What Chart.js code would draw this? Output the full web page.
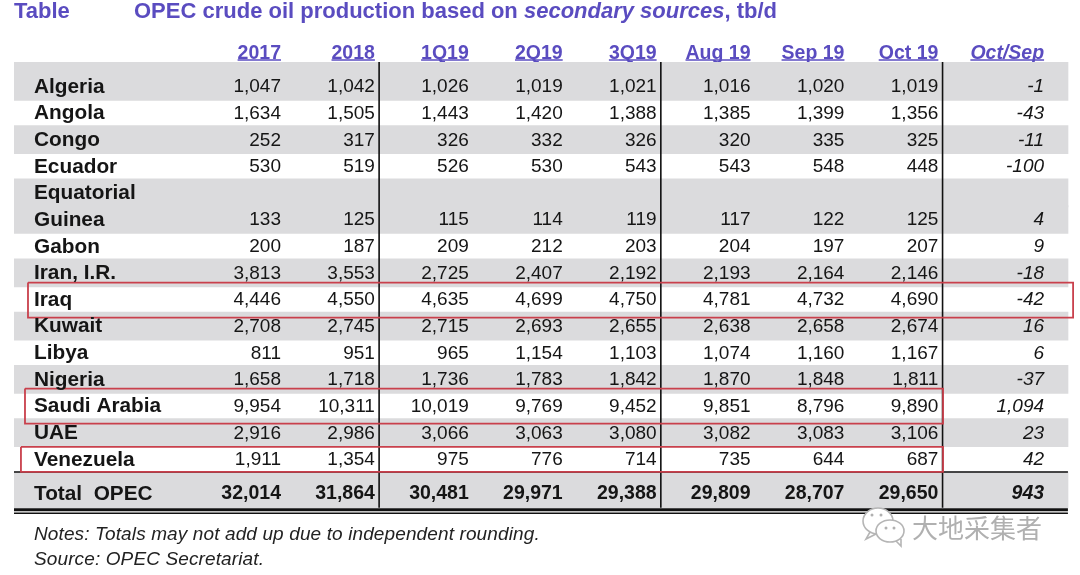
<!DOCTYPE html>
<html>
<head>
<meta charset="utf-8">
<style>
  html, body { margin: 0; padding: 0; background: #fff; }
  canvas { display: block; }
</style>
</head>
<body>
<canvas id="myChart" width="1080" height="575"></canvas>
<script src="https://cdn.jsdelivr.net/npm/chart.js@4"></script>
<script>
    const rows = ["Algeria", "Angola", "Congo", "Ecuador", "Equatorial", "Guinea", "Gabon", "Iran, I.R.", "Iraq",
        "Kuwait", "Libya", "Nigeria", "Saudi Arabia", "UAE", "Venezuela", "Total  OPEC"];
    const columns = ["2017", "2018", "1Q19", "2Q19", "3Q19", "Aug 19", "Sep 19", "Oct 19", "Oct/Sep"];

    const v2017 = [1047, 1634, 252, 530, null, 133, 200, 3813, 4446, 2708, 811, 1658, 9954, 2916, 1911, 32014];
    const v2018 = [1042, 1505, 317, 519, null, 125, 187, 3553, 4550, 2745, 951, 1718, 10311, 2986, 1354, 31864];
    const v1Q19 = [1026, 1443, 326, 526, null, 115, 209, 2725, 4635, 2715, 965, 1736, 10019, 3066, 975, 30481];
    const v2Q19 = [1019, 1420, 332, 530, null, 114, 212, 2407, 4699, 2693, 1154, 1783, 9769, 3063, 776, 29971];
    const v3Q19 = [1021, 1388, 326, 543, null, 119, 203, 2192, 4750, 2655, 1103, 1842, 9452, 3080, 714, 29388];
    const vAug19 = [1016, 1385, 320, 543, null, 117, 204, 2193, 4781, 2638, 1074, 1870, 9851, 3082, 735, 29809];
    const vSep19 = [1020, 1399, 335, 548, null, 122, 197, 2164, 4732, 2658, 1160, 1848, 8796, 3083, 644, 28707];
    const vOct19 = [1019, 1356, 325, 448, null, 125, 207, 2146, 4690, 2674, 1167, 1811, 9890, 3106, 687, 29650];
    const vChange = [-1, -43, -11, -100, null, 4, 9, -18, -42, 16, 6, -37, 1094, 23, 42, 943];
    const series = [v2017, v2018, v1Q19, v2Q19, v3Q19, vAug19, vSep19, vOct19, vChange];

    const grayRows = ["Algeria", "Congo", "Equatorial", "Guinea", "Iran, I.R.", "Kuwait", "Nigeria", "UAE", "Total  OPEC"];
    const dividerAfter = ["2018", "3Q19", "Oct 19"];

    const FONT = '"Liberation Sans", Arial, sans-serif';
    const PURPLE = "#5a4cc0";
    const RED = "#c9404c";

    // x unit = one column, y unit = one table row
    const xMin = -2.843, xMax = 8.466, yMin = -0.94, yMax = 16.03;
    const colX = (i) => (i < 8 ? i : i + 0.126);
    const rowY = (i) => (i < 15 ? i : 15.28);
    const slotOf = (name) => rowY(rows.indexOf(name));

    function lineSet(points, color, width, order) {
        return {
            type: "scatter", data: points, showLine: true, tension: 0, pointRadius: 0,
            borderColor: color, borderWidth: width, order: order, clip: false
        };
    }

    function box(name, up, down, left, right) {
        const y = slotOf(name);
        return lineSet([
            {x: left, y: y - up}, {x: right, y: y - up}, {x: right, y: y + down},
            {x: left, y: y + down}, {x: left, y: y - up}
        ], RED, 1.8, 1);
    }

    function bandTop(name) {
        if (name === "Algeria") return yMin;
        if (name === rows[15]) return 14.45;
        return slotOf(name) - 0.55;
    }

    const bands = {
        type: "bar", order: 10, backgroundColor: "#dbdbdd", borderWidth: 0, barThickness: 1054,
        data: grayRows.map((name) => ({
            x: 2.769,
            y: [bandTop(name), name === rows[15] ? 15.8 : slotOf(name) + 0.5]
        }))
    };

    const cells = series.map((values, c) => ({
        type: "scatter", label: columns[c], pointRadius: 0, order: 8, cells: values,
        data: rows.map((name, r) => ({x: colX(c), y: rowY(r)}))
    }));

    const dividers = dividerAfter.map((name) => {
        const x = colX(columns.indexOf(name)) + 0.045;
        return lineSet([{x: x, y: yMin}, {x: x, y: 15.8}], "#111", 1.6, 5);
    });

    const rules = [
        lineSet([{x: xMin, y: 14.45}, {x: 8.38, y: 14.45}], "#111", 1.5, 5),
        lineSet([{x: xMin, y: 15.87}, {x: 8.38, y: 15.87}], "#111", 3, 5),
        lineSet([{x: xMin, y: 16.0}, {x: 8.38, y: 16.0}], "#111", 1.5, 5)
    ];

    const boxes = [
        box("Iraq", 0.66, 0.66, -2.694, 8.435),
        box("Saudi Arabia", 0.68, 0.64, -2.726, 7.05),
        box("Venezuela", 0.49, 0.45, -2.769, 7.05)
    ];

    const tableText = {
        id: "tableText",
        afterDatasetsDraw(chart) {
            const ctx = chart.ctx;
            ctx.save();
            ctx.textAlign = "right";
            ctx.textBaseline = "middle";
            chart.data.datasets.forEach((ds, d) => {
                if (!ds.cells) return;
                const italic = ds.label === "Oct/Sep" ? "italic " : "";
                chart.getDatasetMeta(d).data.forEach((pt, r) => {
                    const v = ds.cells[r];
                    if (v === null) return;
                    ctx.font = italic + (r === 15 ? "bold 19.5px " : "19px ") + FONT;
                    ctx.fillStyle = "#151515";
                    ctx.fillText(v.toLocaleString("en-US"), pt.x, pt.y);
                });
            });
            ctx.restore();
        },
        afterDraw(chart) {
            const ctx = chart.ctx;
            const xs = chart.scales.x;
            ctx.save();

            // header underlines
            ctx.strokeStyle = PURPLE;
            ctx.lineWidth = 1.3;
            columns.forEach((label, i) => {
                ctx.font = (i === 8 ? "italic " : "") + "bold 19.5px " + FONT;
                const right = xs.getPixelForValue(colX(i));
                ctx.beginPath();
                ctx.moveTo(right - ctx.measureText(label).width, 60);
                ctx.lineTo(right, 60);
                ctx.stroke();
            });

            // title
            ctx.textAlign = "left";
            ctx.textBaseline = "middle";
            ctx.fillStyle = PURPLE;
            ctx.font = "bold 22px " + FONT;
            ctx.fillText("Table", 14, 12);
            let x = 134;
            [["OPEC crude oil production based on ", "bold 22px "],
             ["secondary sources", "italic bold 22px "],
             [", tb/d", "bold 22px "]].forEach((part) => {
                ctx.font = part[1] + FONT;
                ctx.fillText(part[0], x, 12);
                x += ctx.measureText(part[0]).width;
            });

            // notes
            ctx.fillStyle = "#222";
            ctx.font = "italic 19px " + FONT;
            ctx.letterSpacing = "0.12px";
            ctx.fillText("Notes: Totals may not add up due to independent rounding.", 34, 535);
            ctx.fillText("Source: OPEC Secretariat.", 34, 560);
            ctx.letterSpacing = "0px";

            // watermark
            ctx.strokeStyle = "#b5b5b5";
            ctx.fillStyle = "#fff";
            ctx.lineWidth = 1.6;
            ctx.beginPath();
            ctx.ellipse(878, 521, 15, 13, 0, 0, Math.PI * 2);
            ctx.moveTo(870, 532);
            ctx.lineTo(866, 539);
            ctx.lineTo(876, 534);
            ctx.fill();
            ctx.stroke();
            ctx.beginPath();
            ctx.ellipse(890, 531, 14, 11, 0, 0, Math.PI * 2);
            ctx.moveTo(896, 541);
            ctx.lineTo(901, 546);
            ctx.lineTo(901, 539);
            ctx.fill();
            ctx.stroke();
            ctx.fillStyle = "#b0b0b0";
            [[872, 515], [881, 515], [886, 528], [894, 528]].forEach((eye) => {
                ctx.beginPath();
                ctx.arc(eye[0], eye[1], 1.5, 0, Math.PI * 2);
                ctx.fill();
            });
            ctx.font = '26px "Noto Sans CJK SC", sans-serif';
            ctx.fillText("大地采集者", 912, 528);
            ctx.restore();
        }
    };

    new Chart("myChart", {
        type: "bar",
        data: {datasets: [bands, ...cells, ...dividers, ...rules, ...boxes]},
        plugins: [tableText],
        options: {
            responsive: false,
            animation: false,
            events: [],
            layout: {padding: {left: 14, right: 4, top: 0, bottom: 61}},
            plugins: {legend: {display: false}, tooltip: {enabled: false}},
            scales: {
                x: {
                    type: "linear", position: "top", min: xMin, max: xMax, offset: false,
                    grid: {display: false, offset: false}, border: {display: false},
                    afterBuildTicks(scale) { scale.ticks = columns.map((c, i) => ({value: colX(i)})); },
                    afterFit(scale) { scale.height = 62; },
                    ticks: {
                        autoSkip: false, maxRotation: 0, minRotation: 0, align: "end", padding: -11, color: PURPLE,
                        font: (ctx) => ({family: FONT, size: 19.5, weight: "bold", style: ctx.index === 8 ? "italic" : "normal"}),
                        callback: (value, i) => columns[i]
                    }
                },
                y: {
                    type: "linear", reverse: true, min: yMin, max: yMax,
                    grid: {display: false}, border: {display: false},
                    afterBuildTicks(scale) { scale.ticks = rows.map((r, i) => ({value: rowY(i)})); },
                    afterFit(scale) { scale.width = 0; },
                    ticks: {
                        autoSkip: false, mirror: true, padding: 20, z: 1, color: "#151515",
                        font: {family: FONT, size: 20.8, weight: "bold"},
                        callback: (value, i) => rows[i]
                    }
                }
            }
        }
    });
</script>
</body>
</html>
